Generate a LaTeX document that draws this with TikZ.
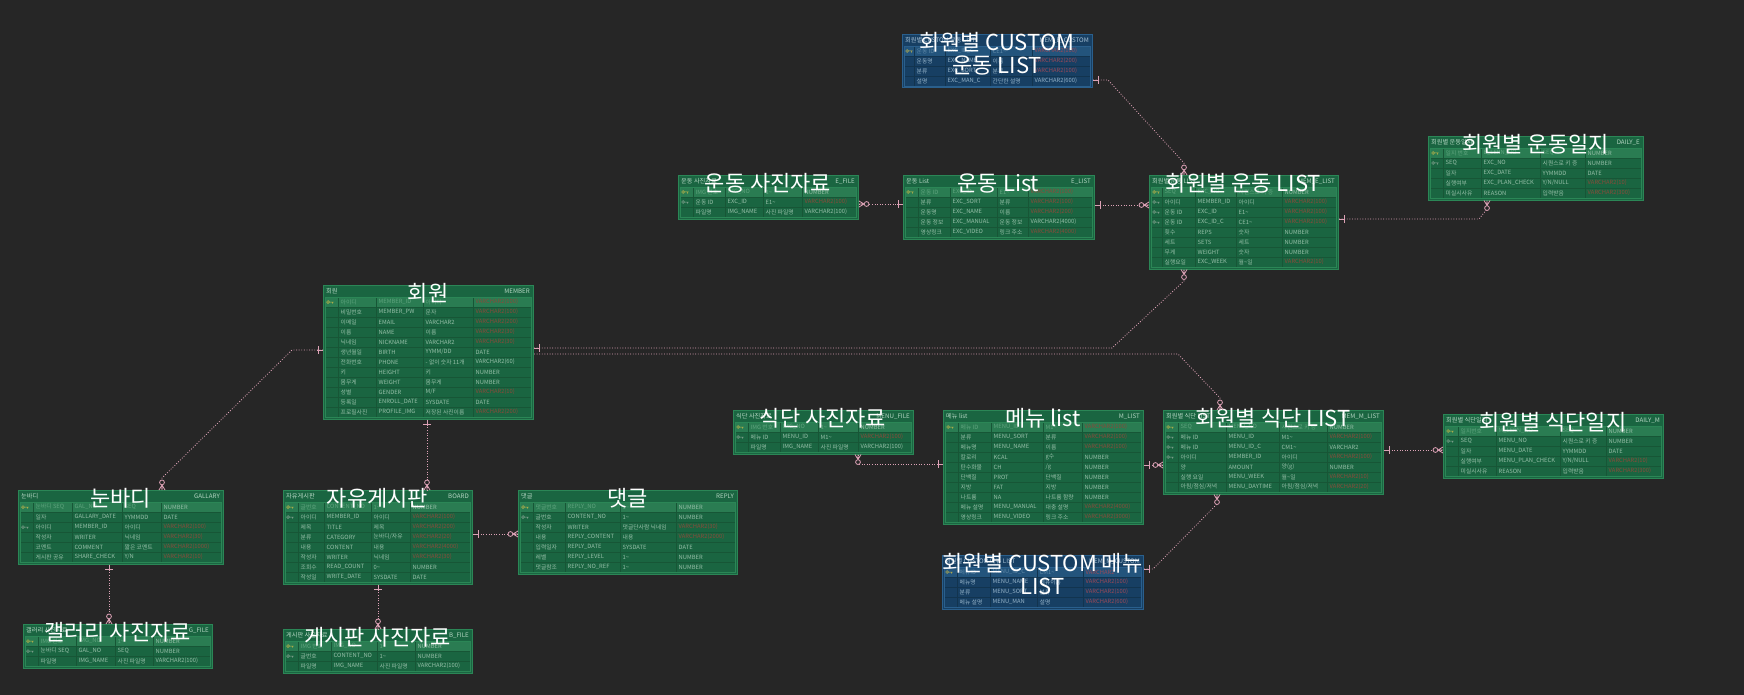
\documentclass[tikz,border=0pt]{standalone}
\usepackage{fontspec}
\setmainfont{Noto Sans CJK KR}
\usetikzlibrary{calc}

% palette
\definecolor{bg}{HTML}{262626}
\definecolor{gfill}{HTML}{1A6541}
\definecolor{gline}{HTML}{2B8656}
\definecolor{ggrid}{HTML}{175636}
\definecolor{gpk}{HTML}{2A7C52}
\definecolor{gtxt}{HTML}{96BFA8}
\definecolor{gpktxt}{HTML}{5FA47E}
\definecolor{gred}{HTML}{8A4A3A}
\definecolor{ghead}{HTML}{B5D6C3}
\definecolor{bfill}{HTML}{173F63}
\definecolor{bline}{HTML}{2A5F8C}
\definecolor{bgrid}{HTML}{12344F}
\definecolor{bpk}{HTML}{23547C}
\definecolor{btxt}{HTML}{94B2C8}
\definecolor{bpktxt}{HTML}{5E88A8}
\definecolor{bred}{HTML}{9A4A58}
\definecolor{bhead}{HTML}{A8C2D6}
\definecolor{kpk}{HTML}{C8B848}
\definecolor{kfk}{HTML}{8EA898}
\definecolor{relc}{HTML}{DDA2B6}

\newcommand\cellfont{\fontsize{5.8}{6}\selectfont}
\newcommand\hdfont{\fontsize{6.2}{7}\selectfont}
\newcommand\ttlfont{\fontsize{22}{24}\selectfont}
\newcommand\tld{\textasciitilde}

\tikzset{
  tabbox/.style={draw=tline, fill=tfill, line width=1pt, inner sep=0pt},
  cell/.style={anchor=west, inner sep=0pt, font=\cellfont},
  hd/.style={inner sep=0pt, font=\hdfont, text=thead},
  ttl/.style={text=white, font=\ttlfont, inner sep=0pt, anchor=base},
  rel/.style={draw=relc, line width=0.8pt, dash pattern=on 0.9pt off 1.7pt},
  mk/.style={draw=relc, line width=0.8pt},
  erbar/.pic={\draw[mk] (5,-4) -- (5,4) (0,0) -- (6,0);},
  ercrow/.pic={\draw[mk] (0,-3) -- (5,0) -- (0,3) (0,0) -- (5,0);
               \draw[mk,fill=bg] (7.6,0) circle (2.4);},
}

% colour scheme of a table: g (green) or b (blue)
\newcommand\setscheme[1]{%
  \colorlet{tfill}{#1fill}\colorlet{tline}{#1line}\colorlet{tgrid}{#1grid}%
  \colorlet{tpk}{#1pk}\colorlet{ttxt}{#1txt}\colorlet{tpktxt}{#1pktxt}%
  \colorlet{tred}{#1red}\colorlet{thead}{#1head}}
\newcommand\setcols[4]{\def\colA{#1}\def\colB{#2}\def\colC{#3}\def\colD{#4}}

% \ertab{name}{scheme}{x0}{y0}{x1}{rows}{header left}{header right}
\newcommand\ertab[8]{%
  \def\tabX{#3}\def\tabY{#4}\def\tabR{#5}\xdef\rowN{0}%
  \setscheme{#2}%
  \pgfmathsetmacro\tabB{#4+12+10*#6+1.5}%
  \pgfmathtruncatemacro\rowM{#6-1}%
  \node[tabbox, minimum width={(#5-#3)*1pt}, minimum height={(\tabB-#4)*1pt},
        anchor=north west] (#1) at (#3,#4) {};
  \fill[tpk] (\tabX+2,\tabY+12) rectangle (\tabR-2,\tabY+22);
  \foreach \k in {1,...,\rowM} \draw[tgrid, line width=0.6pt] (\tabX+2,\tabY+12+10*\k) -- (\tabR-2,\tabY+12+10*\k);
  \foreach \c in {\colA,\colB,\colC,\colD} \draw[tgrid, line width=0.6pt] (\c,\tabY+12) -- (\c,\tabB-1);
  \draw[tline, line width=0.5pt] (\tabX+2,\tabY+12) rectangle (\tabR-2,\tabB-1);
  \node[hd, anchor=west] at (\tabX+3,\tabY+6.5) {#7};
  \node[hd, anchor=east] at (\tabR-3,\tabY+6.5) {#8};
}

\def\kP{P}\def\kF{F}
\newcommand\drawkey[1]{\draw[#1, line width=0.5pt] (\tabX+5,\rowY) circle (1.4)
   (\tabX+6.4,\rowY) -- (\tabX+10.5,\rowY) (\tabX+9.3,\rowY) -- (\tabX+9.3,\rowY+1.6);}
\newcommand\keyicon[1]{\def\kx{#1}\ifx\kx\kP\drawkey{kpk}\fi\ifx\kx\kF\drawkey{kfk}\fi}

% \errow{key}{logical}{physical}{domain}{type}{red|txt}
\newcommand\errow[6]{%
  \pgfmathtruncatemacro\tmpn{\rowN+1}\xdef\rowN{\tmpn}%
  \pgfmathsetmacro\rowY{\tabY+12+10*\rowN-5}%
  \ifnum\rowN=1 \def\rc{tpktxt}\else\def\rc{ttxt}\fi
  \keyicon{#1}%
  \node[cell, text=\rc] at (\colA+2.5,\rowY) {#2};
  \node[cell, text=\rc] at (\colB+2.5,\rowY) {#3};
  \node[cell, text=\rc] at (\colC+2.5,\rowY) {#4};
  \node[cell, text=t#6] at (\colD+2.5,\rowY) {#5};
}

% \ertitle{name}{first line}{second line}
\newcommand\ertitle[3]{%
  \node[ttl] (#1-t) at ({(\tabX+\tabR)/2},\tabY+16.5) {#2};
  \def\tmpl{#3}\ifx\tmpl\empty\else
  \node[ttl] (#1-t2) at ({(\tabX+\tabR)/2},\tabY+39.5) {#3};\fi
}

\begin{document}
\begin{tikzpicture}[x=1pt, y=-1pt]
\fill[bg] (0,0) rectangle (1744,695);
\useasboundingbox (0,0) rectangle (1744,695);

% ---------- exercise tables ----------
\setcols{914}{945}{990}{1032}
\ertab{cexc}{b}{902}{34}{1092}{4}{회원별 CUSTOM 운동 LIST}{MEM\_E\_CUSTOM}
\errow{P}{운동 ID}{EXC\_ID\_C}{CE1\tld}{VARCHAR2(100)}{red}
\errow{}{운동명}{EXC\_NAME}{이름}{VARCHAR2(200)}{red}
\errow{}{분류}{EXC\_SORT}{분류}{VARCHAR2(100)}{red}
\errow{}{설명}{EXC\_MAN\_C}{간단한 설명}{VARCHAR2(600)}{txt}
\ertitle{cexc}{회원별 CUSTOM}{운동 LIST}

\setcols{693}{725}{763}{802}
\ertab{efile}{g}{678}{175}{858}{3}{운동 사진자료}{E\_FILE}
\errow{P}{IMG 번호}{IMG\_NO}{1\tld}{NUMBER}{txt}
\errow{F}{운동 ID}{EXC\_ID}{E1\tld}{VARCHAR2(100)}{red}
\errow{}{파일명}{IMG\_NAME}{사진 파일명}{VARCHAR2(100)}{txt}
\ertitle{efile}{운동 사진자료}{}

\setcols{918}{950}{997}{1028}
\ertab{elist}{g}{903}{175}{1094}{5}{운동 List}{E\_LIST}
\errow{P}{운동 ID}{EXC\_ID}{E1\tld}{VARCHAR2(100)}{red}
\errow{}{분류}{EXC\_SORT}{분류}{VARCHAR2(100)}{red}
\errow{}{운동명}{EXC\_NAME}{이름}{VARCHAR2(200)}{red}
\errow{}{운동 정보}{EXC\_MANUAL}{운동 정보}{VARCHAR2(4000)}{txt}
\errow{}{영상링크}{EXC\_VIDEO}{링크 주소}{VARCHAR2(4000)}{red}
\ertitle{elist}{운동 List}{}

\setcols{1162}{1195}{1236}{1282}
\ertab{memex}{g}{1149}{175}{1338}{8}{회원별 운동 LIST}{MEM\_E\_LIST}
\errow{P}{SEQ}{EXC\_NO}{시퀀스로 키 증}{NUMBER}{txt}
\errow{F}{아이디}{MEMBER\_ID}{아이디}{VARCHAR2(100)}{red}
\errow{F}{운동 ID}{EXC\_ID}{E1\tld}{VARCHAR2(100)}{red}
\errow{F}{운동 ID}{EXC\_ID\_C}{CE1\tld}{VARCHAR2(100)}{red}
\errow{}{횟수}{REPS}{숫자}{NUMBER}{txt}
\errow{}{세트}{SETS}{세트}{NUMBER}{txt}
\errow{}{무게}{WEIGHT}{숫자}{NUMBER}{txt}
\errow{}{실행요일}{EXC\_WEEK}{월\tld 일}{VARCHAR2(10)}{red}
\ertitle{memex}{회원별 운동 LIST}{}

\setcols{1443}{1481}{1540}{1585}
\ertab{dayex}{g}{1428}{136}{1643}{5}{회원별 운동일지}{DAILY\_E}
\errow{P}{일지 번호}{E\_LERN\_NO}{SEQ}{NUMBER}{txt}
\errow{F}{SEQ}{EXC\_NO}{시퀀스로 키 증}{NUMBER}{txt}
\errow{}{일자}{EXC\_DATE}{YYMMDD}{DATE}{txt}
\errow{}{실행여부}{EXC\_PLAN\_CHECK}{Y/N/NULL}{VARCHAR2(10)}{red}
\errow{}{미실시사유}{REASON}{입력받음}{VARCHAR2(300)}{red}
\ertitle{dayex}{회원별 운동일지}{}

% ---------- member ----------
\setcols{338}{376}{423}{473}
\ertab{member}{g}{323}{285}{533}{12}{회원}{MEMBER}
\errow{P}{아이디}{MEMBER\_ID}{아이디}{VARCHAR2(100)}{red}
\errow{}{비밀번호}{MEMBER\_PW}{문자}{VARCHAR2(100)}{red}
\errow{}{이메일}{EMAIL}{VARCHAR2}{VARCHAR2(200)}{red}
\errow{}{이름}{NAME}{이름}{VARCHAR2(30)}{red}
\errow{}{닉네임}{NICKNAME}{VARCHAR2}{VARCHAR2(30)}{red}
\errow{}{생년월일}{BIRTH}{YYMM/DD}{DATE}{txt}
\errow{}{전화번호}{PHONE}{- 없이 숫자 11개}{VARCHAR2(60)}{txt}
\errow{}{키}{HEIGHT}{키}{NUMBER}{txt}
\errow{}{몸무게}{WEIGHT}{몸무게}{NUMBER}{txt}
\errow{}{성별}{GENDER}{M/F}{VARCHAR2(10)}{red}
\errow{}{등록일}{ENROLL\_DATE}{SYSDATE}{DATE}{txt}
\errow{}{프로필사진}{PROFILE\_IMG}{저장된 사진이름}{VARCHAR2(200)}{red}
\ertitle{member}{회원}{}

% ---------- meal tables ----------
\setcols{748}{780}{818}{858}
\ertab{sfile}{g}{733}{410}{913}{3}{식단 사진자료}{MENU\_FILE}
\errow{P}{IMG 번호}{IMG\_NO}{1\tld}{NUMBER}{txt}
\errow{F}{메뉴 ID}{MENU\_ID}{M1\tld}{VARCHAR2(100)}{red}
\errow{}{파일명}{IMG\_NAME}{사진 파일명}{VARCHAR2(100)}{txt}
\ertitle{sfile}{식단 사진자료}{}

\setcols{958}{991}{1043}{1082}
\ertab{mlist}{g}{943}{410}{1143}{10}{메뉴 list}{M\_LIST}
\errow{P}{메뉴 ID}{MENU\_ID}{M1\tld}{VARCHAR2(100)}{red}
\errow{}{분류}{MENU\_SORT}{분류}{VARCHAR2(100)}{red}
\errow{}{메뉴명}{MENU\_NAME}{이름}{VARCHAR2(100)}{red}
\errow{}{칼로리}{KCAL}{g수}{NUMBER}{txt}
\errow{}{탄수화물}{CH}{/g}{NUMBER}{txt}
\errow{}{단백질}{PROT}{단백질}{NUMBER}{txt}
\errow{}{지방}{FAT}{지방}{NUMBER}{txt}
\errow{}{나트륨}{NA}{나트륨 함량}{NUMBER}{txt}
\errow{}{메뉴 설명}{MENU\_MANUAL}{대충 설명}{VARCHAR2(4000)}{red}
\errow{}{영상링크}{MENU\_VIDEO}{링크 주소}{VARCHAR2(3000)}{red}
\ertitle{mlist}{메뉴 list}{}

\setcols{1178}{1226}{1279}{1327}
\ertab{memml}{g}{1163}{410}{1383}{7}{회원별 식단 LIST}{MEM\_M\_LIST}
\errow{P}{SEQ}{MENU\_NO}{시퀀스로 키 증}{NUMBER}{txt}
\errow{F}{메뉴 ID}{MENU\_ID}{M1\tld}{VARCHAR2(100)}{red}
\errow{F}{메뉴 ID}{MENU\_ID\_C}{CM1\tld}{VARCHAR2}{txt}
\errow{F}{아이디}{MEMBER\_ID}{아이디}{VARCHAR2(100)}{red}
\errow{}{양}{AMOUNT}{양(g)}{NUMBER}{txt}
\errow{}{실행 요일}{MENU\_WEEK}{월\tld 일}{VARCHAR2(10)}{red}
\errow{}{아침/점심/저녁}{MENU\_DAYTIME}{아침/점심/저녁}{VARCHAR2(20)}{red}
\ertitle{memml}{회원별 식단 LIST}{}

\setcols{1458}{1496}{1560}{1606}
\ertab{dayml}{g}{1443}{414}{1663}{5}{회원별 식단일지}{DAILY\_M}
\errow{P}{일지번호}{M\_LERN\_NO}{SEQ}{NUMBER}{txt}
\errow{F}{SEQ}{MENU\_NO}{시퀀스로 키 증}{NUMBER}{txt}
\errow{}{일자}{MENU\_DATE}{YYMMDD}{DATE}{txt}
\errow{}{실행여부}{MENU\_PLAN\_CHECK}{Y/N/NULL}{VARCHAR2(10)}{red}
\errow{}{미실시사유}{REASON}{입력받음}{VARCHAR2(300)}{red}
\ertitle{dayml}{회원별 식단일지}{}

\setcols{957}{990}{1037}{1083}
\ertab{cmenu}{b}{942}{555}{1143}{4}{회원별 CUSTOM 메뉴 LIST}{MEM\_M\_CUSTOM}
\errow{P}{메뉴ID}{MENU\_ID\_C}{CM1\tld}{VARCHAR2}{red}
\errow{}{메뉴명}{MENU\_NAME}{메뉴이름}{VARCHAR2(100)}{red}
\errow{}{분류}{MENU\_SORT}{분류}{VARCHAR2(100)}{red}
\errow{}{메뉴 설명}{MENU\_MAN}{설명}{VARCHAR2(600)}{red}
\ertitle{cmenu}{회원별 CUSTOM 메뉴}{LIST}

% ---------- community tables ----------
\setcols{33}{72}{122}{161}
\ertab{gal}{g}{18}{490}{223}{6}{눈바디}{GALLARY}
\errow{P}{눈바디 SEQ}{GAL\_NO}{SEQ}{NUMBER}{txt}
\errow{}{일자}{GALLARY\_DATE}{YYMMDD}{DATE}{txt}
\errow{F}{아이디}{MEMBER\_ID}{아이디}{VARCHAR2(100)}{red}
\errow{}{작성자}{WRITER}{닉네임}{VARCHAR2(30)}{red}
\errow{}{코멘트}{COMMENT}{짧은 코멘트}{VARCHAR2(1000)}{red}
\errow{}{게시판 공유}{SHARE\_CHECK}{Y/N}{VARCHAR2(10)}{red}
\ertitle{gal}{눈바디}{}

\setcols{298}{324}{371}{410}
\ertab{board}{g}{283}{490}{472}{8}{자유게시판}{BOARD}
\errow{P}{글번호}{CONTENT\_NO}{1\tld}{NUMBER}{txt}
\errow{F}{아이디}{MEMBER\_ID}{아이디}{VARCHAR2(100)}{red}
\errow{}{제목}{TITLE}{제목}{VARCHAR2(200)}{red}
\errow{}{분류}{CATEGORY}{눈바디/자유}{VARCHAR2(20)}{red}
\errow{}{내용}{CONTENT}{내용}{VARCHAR2(4000)}{red}
\errow{}{작성자}{WRITER}{닉네임}{VARCHAR2(30)}{red}
\errow{}{조회수}{READ\_COUNT}{0\tld}{NUMBER}{txt}
\errow{}{작성일}{WRITE\_DATE}{SYSDATE}{DATE}{txt}
\ertitle{board}{자유게시판}{}

\setcols{533}{565}{620}{676}
\ertab{reply}{g}{518}{490}{737}{7}{댓글}{REPLY}
\errow{P}{댓글번호}{REPLY\_NO}{1\tld}{NUMBER}{txt}
\errow{F}{글번호}{CONTENT\_NO}{1\tld}{NUMBER}{txt}
\errow{}{작성자}{WRITER}{댓글단사람 닉네임}{VARCHAR2(30)}{red}
\errow{}{내용}{REPLY\_CONTENT}{내용}{VARCHAR2(2000)}{red}
\errow{}{입력일자}{REPLY\_DATE}{SYSDATE}{DATE}{txt}
\errow{}{레벨}{REPLY\_LEVEL}{1\tld}{NUMBER}{txt}
\errow{}{댓글참조}{REPLY\_NO\_REF}{1\tld}{NUMBER}{txt}
\ertitle{reply}{댓글}{}

\setcols{38}{76}{115}{153}
\ertab{gfile}{g}{23}{624}{212}{3}{갤러리 사진자료}{G\_FILE}
\errow{P}{IMG 번호}{IMG\_NO}{1\tld}{NUMBER}{txt}
\errow{F}{눈바디 SEQ}{GAL\_NO}{SEQ}{NUMBER}{txt}
\errow{}{파일명}{IMG\_NAME}{사진 파일명}{VARCHAR2(100)}{txt}
\ertitle{gfile}{갤러리 사진자료}{}

\setcols{298}{331}{377}{415}
\ertab{bfile}{g}{283}{629}{472}{3}{게시판 사진자료}{B\_FILE}
\errow{P}{IMG 번호}{IMG\_NO}{1\tld}{NUMBER}{txt}
\errow{F}{글번호}{CONTENT\_NO}{1\tld}{NUMBER}{txt}
\errow{}{파일명}{IMG\_NAME}{사진 파일명}{VARCHAR2(100)}{txt}
\ertitle{bfile}{게시판 사진자료}{}

% ---------- relationships ----------
% custom exercise -> member exercise list
\draw[rel] (cexc.east |- 0,80) -- (1108,80) -- (1184,163) -- (memex.north -| 1184,0);
\path (cexc.east |- 0,80) pic {erbar};
\path (memex.north -| 1184,0) pic[rotate=90] {ercrow};
% exercise photo -- exercise list
\draw[rel] (efile.east |- 0,204) -- (elist.west |- 0,204);
\path (efile.east |- 0,204) pic {ercrow};
\path (elist.west |- 0,204) pic[rotate=180] {erbar};
% exercise list -> member exercise list
\draw[rel] (elist.east |- 0,205) -- (memex.west |- 0,205);
\path (elist.east |- 0,205) pic {erbar};
\path (memex.west |- 0,205) pic[rotate=180] {ercrow};
% member exercise list -> exercise log
\draw[rel] (memex.east |- 0,219) -- (1479,219) -- (1487,209) -- (dayex.south -| 1487,0);
\path (memex.east |- 0,219) pic {erbar};
\path (dayex.south -| 1487,0) pic[rotate=-90] {ercrow};
% member -> member exercise list
\draw[rel] (member.east |- 0,348) -- (1112,348) -- (1184,281) -- (memex.south -| 1184,0);
\path (member.east |- 0,348) pic {erbar};
\path (memex.south -| 1184,0) pic[rotate=-90] {ercrow};
% member -> member meal list
\draw[rel] (member.east |- 0,354) -- (1178,354) -- (1220,398) -- (memml.north -| 1220,0);
\path (memml.north -| 1220,0) pic[rotate=90] {ercrow};
% member -> gallery
\draw[rel] (member.west |- 0,350) -- (292,350) -- (162,478) -- (gal.north -| 162,0);
\path (member.west |- 0,350) pic[rotate=180] {erbar};
\path (gal.north -| 162,0) pic[rotate=90] {ercrow};
% member -> board
\draw[rel] (member.south -| 427,0) -- (board.north -| 427,0);
\path (member.south -| 427,0) pic[rotate=-90] {erbar};
\path (board.north -| 427,0) pic[rotate=90] {ercrow};
% board -> reply
\draw[rel] (board.east |- 0,534) -- (reply.west |- 0,534);
\path (board.east |- 0,534) pic {erbar};
\path (reply.west |- 0,534) pic[rotate=180] {ercrow};
% board -> board photo
\draw[rel] (board.south -| 378,0) -- (bfile.north -| 378,0);
\path (board.south -| 378,0) pic[rotate=-90] {erbar};
\path (bfile.north -| 378,0) pic[rotate=90] {ercrow};
% gallery -> gallery photo
\draw[rel] (gal.south -| 109,0) -- (gfile.north -| 109,0);
\path (gal.south -| 109,0) pic[rotate=-90] {erbar};
\path (gfile.north -| 109,0) pic[rotate=90] {ercrow};
% meal photo -- menu list
\draw[rel] (sfile.south -| 858,0) -- (858,464) -- (mlist.west |- 0,464);
\path (sfile.south -| 858,0) pic[rotate=-90] {ercrow};
\path (mlist.west |- 0,464) pic[rotate=180] {erbar};
% menu list -> member meal list
\draw[rel] (mlist.east |- 0,465) -- (memml.west |- 0,465);
\path (mlist.east |- 0,465) pic {erbar};
\path (memml.west |- 0,465) pic[rotate=180] {ercrow};
% member meal list -> meal log
\draw[rel] (memml.east |- 0,450) -- (dayml.west |- 0,450);
\path (memml.east |- 0,450) pic {erbar};
\path (dayml.west |- 0,450) pic[rotate=180] {ercrow};
% custom menu -> member meal list
\draw[rel] (cmenu.east |- 0,569) -- (1153,569) -- (1217,504) -- (memml.south -| 1217,0);
\path (cmenu.east |- 0,569) pic {erbar};
\path (memml.south -| 1217,0) pic[rotate=-90] {ercrow};
\end{tikzpicture}
\end{document}
